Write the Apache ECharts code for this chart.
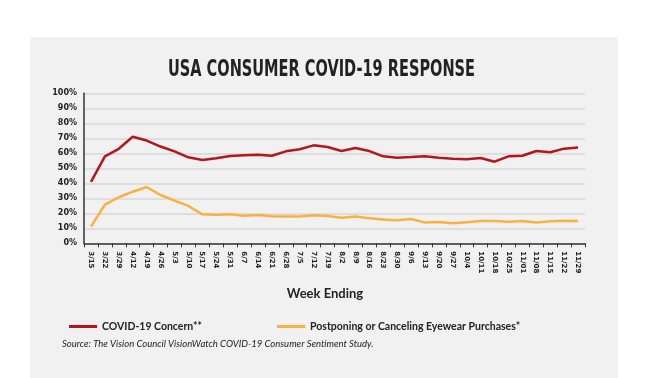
<!DOCTYPE html>
<html><head><meta charset="utf-8">
<script src="https://cdn.jsdelivr.net/npm/echarts@6/dist/echarts.min.js"></script>
<style>html,body{margin:0;padding:0;background:#fff}#c{width:650px;height:378px}</style>
</head><body><div id="c"></div>
<script>
const weeks = ['3/15','3/22','3/29','4/12','4/19','4/26','5/3','5/10','5/17','5/24','5/31','6/7','6/14','6/21','6/28','7/5','7/12','7/19','8/2','8/9','8/16','8/23','8/30','9/6','9/13','9/20','9/27','10/4','10/11','10/18','10/25','11/01','11/08','11/15','11/22','11/29'];
const concern = [41,58,63,71,68.5,64.5,61.3,57.3,55.5,56.7,58.2,58.7,59.1,58.4,61.3,62.7,65.3,64.2,61.5,63.5,61.5,58,57.1,57.5,58,57,56.4,56,56.9,54.4,58,58.4,61.5,60.7,63.1,63.8];
const postponing = [11.1,25.8,30.7,34.4,37.5,32.2,28.4,24.9,19.3,19.1,19.3,18.4,18.9,18,17.8,17.8,18.7,18.2,17.1,17.8,16.7,15.8,15.3,16.2,13.8,14.2,13.3,14,14.9,14.9,14.4,14.9,13.8,14.7,15.1,14.9];
const seriesNames = ['COVID-19 Concern**','Postponing or Canceling Eyewear Purchases*'];
const yTicks = [0,10,20,30,40,50,60,70,80,90,100];
const titleText = 'USA CONSUMER COVID-19 RESPONSE';

const RED = '#b5161e', ORANGE = '#fbb040';
const titleFont = 'bold 23px "DejaVu Sans"';
const cv = document.createElement('canvas').getContext('2d');
cv.font = titleFont;
const tw = cv.measureText(titleText).width;
const sx = 307 / tw;

const chart = echarts.init(document.getElementById('c'), null, {renderer:'canvas'});
chart.setOption({
  animation:false,
  backgroundColor:'#ffffff',
  graphic:[
    {type:'rect', z:-10, shape:{x:30,y:37,width:588,height:341}, style:{fill:'#f1f1f1'}},
    {type:'text', x:321.5, y:70, scaleX:sx, scaleY:1, style:{text:titleText, font:titleFont, fill:'#222', textAlign:'center', textVerticalAlign:'middle'}},
    {type:'text', x:325, y:294, style:{text:'Week Ending', font:'bold 13px Lato', fill:'#222', textAlign:'center', textVerticalAlign:'middle'}},
    {type:'text', x:62, y:343.5, style:{text:'Source: The Vision Council VisionWatch COVID-19 Consumer Sentiment Study.', font:'italic 9.5px Lato', fill:'#222', textAlign:'left', textVerticalAlign:'middle'}}
  ],
  legend:[
    {left:64, top:316, data:[seriesNames[0]], icon:'rect', itemWidth:28, itemHeight:3, itemGap:5, textStyle:{fontFamily:'Lato', fontWeight:'bold', fontSize:10.5, color:'#222', padding:[0,0,0,0]}},
    {left:272, top:316, data:[seriesNames[1]], icon:'rect', itemWidth:28, itemHeight:3, itemGap:5, textStyle:{fontFamily:'Lato', fontWeight:'bold', fontSize:10.5, color:'#222', padding:[0,0,0,0]}}
  ],
  grid:{left:84, right:65, top:93.3, bottom:134.7, containLabel:false},
  xAxis:{type:'category', data:weeks, boundaryGap:true,
    axisLine:{lineStyle:{color:'#333', width:1.5}},
    axisTick:{show:true, length:4, lineStyle:{color:'#333'}},
    axisLabel:{rotate:-90, interval:0, fontFamily:'DejaVu Sans', fontWeight:'bold', fontSize:7, color:'#222', margin:8}},
  yAxis:{type:'value', min:0, max:100, interval:10,
    axisLine:{show:true, lineStyle:{color:'#333', width:1.5}},
    axisTick:{show:false},
    splitLine:{lineStyle:{color:'#dedede', width:2}},
    axisLabel:{formatter:v=>yTicks.includes(v)?v+'%':'', fontFamily:'DejaVu Sans', fontWeight:'bold', fontSize:8, color:'#222', margin:7}},
  series:[
    {name:seriesNames[0], type:'line', data:concern, symbol:'none', lineStyle:{color:RED, width:2.5}, itemStyle:{color:RED}},
    {name:seriesNames[1], type:'line', data:postponing, symbol:'none', lineStyle:{color:ORANGE, width:2.5}, itemStyle:{color:ORANGE}}
  ]
});
</script></body></html>
